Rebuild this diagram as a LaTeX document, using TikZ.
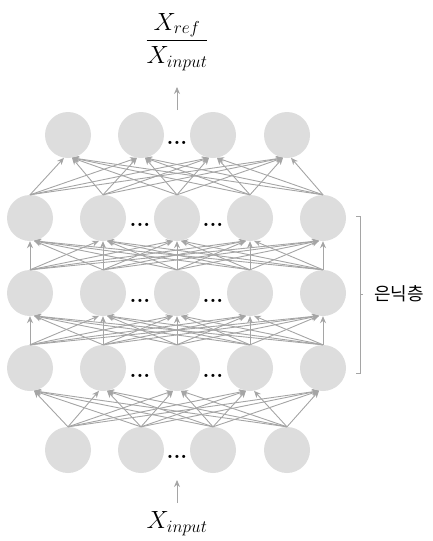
\documentclass[tikz,border=0pt]{standalone}
\usepackage{amsmath}
\usepackage{fontspec}
\newfontfamily\kor{Noto Sans CJK KR}
\usetikzlibrary{arrows.meta,calc}
\definecolor{nodegray}{RGB}{221,221,221}
\definecolor{linegray}{RGB}{165,165,165}
\tikzset{
  neuron/.style={circle, fill=nodegray, draw=none, minimum size=46pt, inner sep=0pt},
  conn/.style={draw=linegray, line width=0.9pt, -{Stealth[length=7pt,width=6pt]}},
  dotsnode/.style={font=\fontsize{22}{22}\selectfont\bfseries, inner sep=0pt},
  lbl/.style={font=\fontsize{27}{32}\selectfont, inner sep=0pt},
}
\begin{document}
\begin{tikzpicture}[x=1pt,y=-1pt]
\useasboundingbox (0,0) rectangle (433,541);
% top and bottom layers
\foreach \i/\x in {1/68,2/141,3/213,4/287} {
  \node[neuron] (t\i) at (\x,135) {};
  \node[neuron] (b\i) at (\x,450) {};
}
% hidden layers
\foreach \l/\y in {1/218,2/293,3/368} {
  \foreach \i/\x in {1/30,2/103,3/177,4/250,5/323} {
    \node[neuron] (h\l\i) at (\x,\y) {};
  }
}
% connections: bottom -> hidden 3
\foreach \i in {1,...,4} {
  \foreach \j in {1,...,5} {
    \pgfmathtruncatemacro\ang{ifthenelse(\j<=\i,280,260)}
    \draw[conn] (b\i.north) -- (h3\j.\ang);
  }
}
% hidden 3 -> hidden 2, hidden 2 -> hidden 1
\foreach \i in {1,...,5} {
  \foreach \j in {1,...,5} {
    \pgfmathtruncatemacro\ang{ifthenelse(\j<\i,280,ifthenelse(\j>\i,260,270))}
    \draw[conn] (h3\i.north) -- (h2\j.\ang);
    \draw[conn] (h2\i.north) -- (h1\j.\ang);
  }
}
% hidden 1 -> top
\foreach \i in {1,...,5} {
  \foreach \j in {1,...,4} {
    \pgfmathtruncatemacro\ang{ifthenelse(\i<=\j,260,280)}
    \draw[conn] (h1\i.north) -- (t\j.\ang);
  }
}
% dots
\node[dotsnode] (dt) at (177,143) {...};
\node[dotsnode] (db) at (177,457) {...};
\foreach \l/\y in {1/225,2/301,3/376} {
  \node[dotsnode] (da\l) at (140,\y) {...};
  \node[dotsnode] (dc\l) at (213,\y) {...};
}
% output label
\node[lbl] (out) at (177,42) {$\dfrac{X_{ref}}{X_{input}}$};
\coordinate (oa) at (177,110);
\coordinate (ob) at (177,87);
\draw[conn] (oa) -- (ob);
% input label
\node[lbl] (inp) at (177,524) {$X_{input}$};
\coordinate (ia) at (177,503);
\coordinate (ib) at (177,480);
\draw[conn] (ia) -- (ib);
% bracket
\coordinate (bt) at (360,216);
\coordinate (bb) at (360,373);
\coordinate (bm) at (360,294);
\draw[draw=linegray, line width=0.7pt] ($(bt)+(-4,0)$) -- (bt) -- (bb) -- ($(bb)+(-4,0)$);
\draw[draw=linegray, line width=0.7pt] (bm) -- ++(3,0);
\node[font=\kor\fontsize{18}{20}\selectfont, inner sep=0pt] (hl) at (399,294) {은닉층};
\end{tikzpicture}
\end{document}
